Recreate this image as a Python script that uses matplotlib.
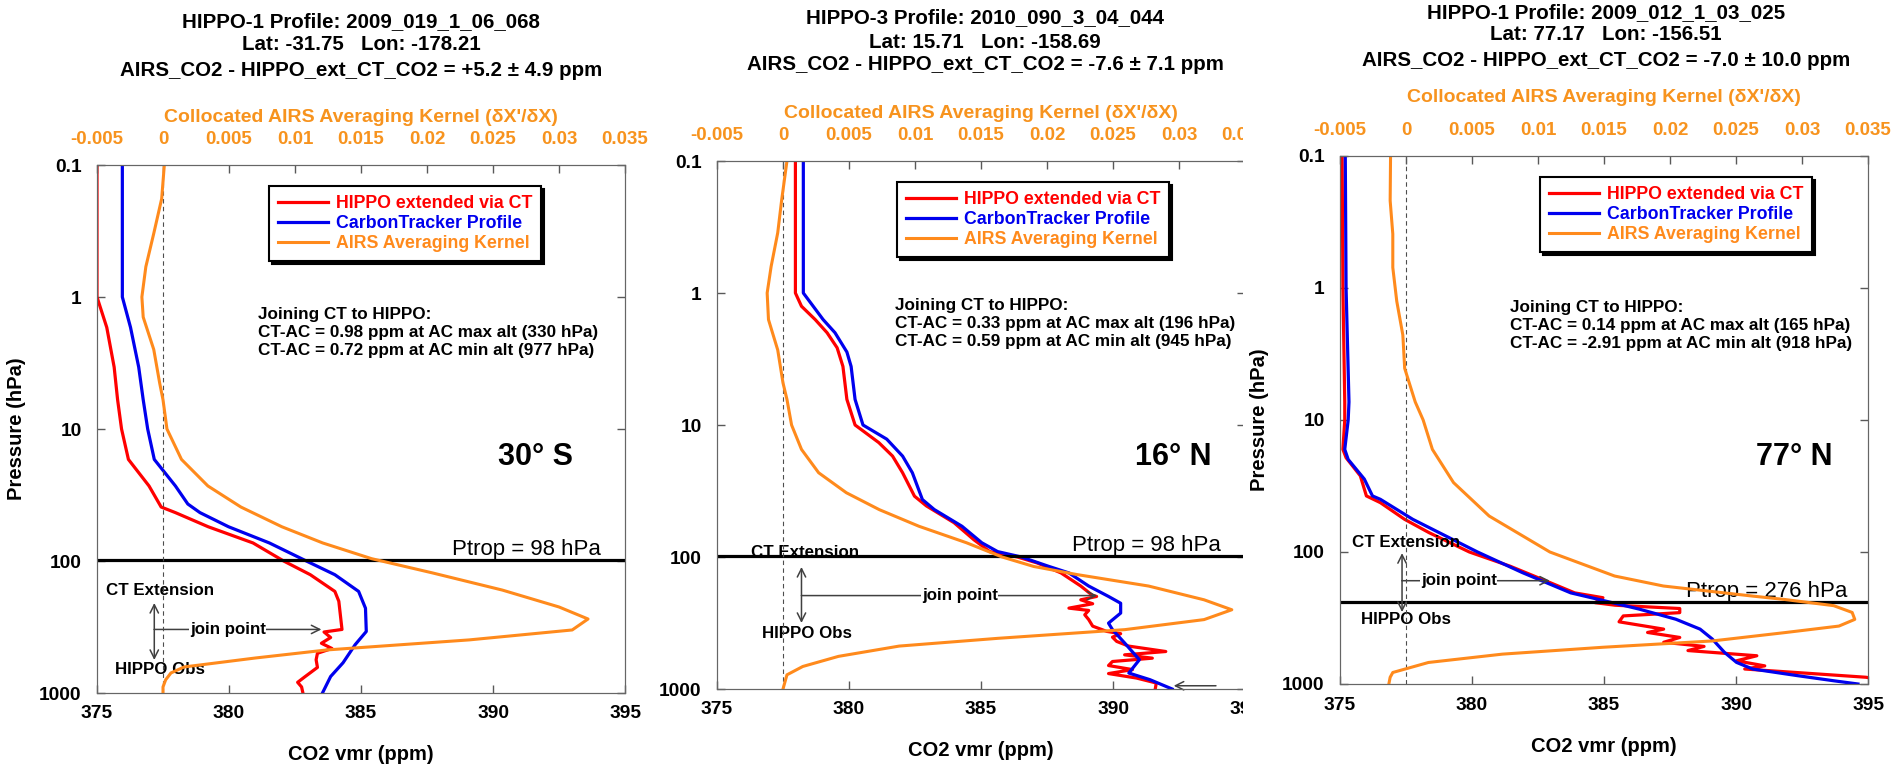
import matplotlib
matplotlib.use("Agg")
import matplotlib.pyplot as plt
from matplotlib.patches import Rectangle
from matplotlib.ticker import NullLocator

plt.rcParams['font.family'] = ['Liberation Sans', 'DejaVu Sans']
plt.rcParams['font.weight'] = 'bold'
plt.rcParams['axes.labelweight'] = 'bold'

RED = '#ff0000'
BLUE = '#0000ee'
ORANGE = '#ff8a1c'
AKTEXT = '#f7931e'

# ---------------- panel 1 : 30 S ----------------
p1_hippo_p = [0.1, 1.0, 1.7, 3.4, 6.0, 10, 17, 27, 39, 43, 55, 73, 100, 127, 170,
              202, 330, 345, 380, 420, 460, 500, 560, 640, 760, 830, 900, 1000]
p1_hippo_co2 = [375.0, 375.0, 375.37, 375.65, 375.78, 375.93, 376.19, 376.97, 377.43, 377.97,
                379.21, 380.91, 382.07, 383.08, 384.01, 384.16, 384.28, 383.6, 383.85, 383.5,
                383.9, 383.35, 383.3, 383.35, 382.85, 382.6, 382.75, 382.8]
p1_ct_p = [0.1, 1.0, 1.7, 3.4, 6.0, 10, 17, 27, 37, 43, 55, 73, 100, 127, 170,
           228, 342, 430, 590, 750, 1000]
p1_ct_co2 = [375.96, 375.96, 376.27, 376.58, 376.75, 376.92, 377.17, 377.97, 378.44, 378.9,
             379.98, 381.53, 382.93, 384.01, 384.91, 385.17, 385.2, 384.78, 384.32, 383.85, 383.54]
p1_ak_p = [0.1, 0.18, 0.33, 0.59, 1.0, 1.42, 2.5, 4.5, 6.0, 10, 17, 27, 39, 55, 73,
           96, 123, 166, 223, 275, 333, 396, 472, 543, 635, 705, 795, 900, 1000]
p1_ak = [0.0001, -0.0001, -0.0007, -0.0013, -0.0016, -0.0015, -0.0007, -0.00025, 0.0, 0.0003,
         0.0014, 0.0034, 0.0059, 0.0090, 0.0121, 0.0158, 0.0204, 0.0257, 0.0300, 0.0322,
         0.0310, 0.0232, 0.0124, 0.0070, 0.0016, 0.0006, 0.0002, 0.0, 0.0]

# ---------------- panel 2 : 16 N ----------------
p2_hippo_p = [0.1, 1.0, 1.26, 1.59, 2.0, 2.6, 3.6, 6.4, 10, 13.6, 17.2, 23, 34.6, 41, 55,
              74, 91, 100, 111, 132, 166, 196, 199, 211, 226, 244, 254, 274, 298, 334,
              366, 381, 405, 436, 473, 520, 551, 584, 619, 664, 713, 764, 826, 901, 1000]
p2_hippo_co2 = [377.97, 377.97, 378.2, 378.72, 379.17, 379.55, 379.77, 379.92, 380.23, 381.13,
                381.65, 382.03, 382.48, 382.93, 383.98, 384.73, 385.33, 386.38, 387.13, 388.03,
                388.78, 389.23, 389.38, 388.78, 389.23, 388.33, 389.08, 388.93, 389.08, 389.23,
                389.76, 390.29, 389.98, 390.14, 390.59, 392.0, 390.44, 391.49, 389.98, 389.83,
                390.74, 389.83, 390.89, 391.64, 391.6]
p2_ct_p = [0.1, 1.0, 1.59, 2.0, 2.8, 3.6, 6.4, 10, 12.8, 17.2, 23, 36.7, 43.7, 58.5, 78,
           91, 100, 118, 132, 166, 199, 224, 266, 317, 355, 448, 600, 757, 850, 1000]
p2_ct_co2 = [378.27, 378.27, 379.02, 379.47, 379.92, 380.08, 380.23, 380.53, 381.43, 382.03,
             382.4, 382.78, 383.23, 384.28, 385.03, 385.63, 386.53, 387.58, 388.33, 389.08,
             389.83, 390.29, 390.29, 389.83, 389.98, 390.44, 391.0, 390.6, 391.4, 392.24]
p2_ak_p = [0.1, 0.197, 0.35, 0.63, 1.0, 1.59, 2.7, 4.8, 6.4, 10, 15.3, 23, 32.6, 43.8, 58.5,
           78, 100, 118, 136, 166, 211, 251, 298, 355, 413, 473, 566, 675, 781, 1000]
p2_ak = [0.0003, -0.0001, -0.0004, -0.0009, -0.0012, -0.0011, -0.0004, 0.0, 0.0003, 0.00065,
         0.0014, 0.0027, 0.0048, 0.0073, 0.0103, 0.0139, 0.0166, 0.0190, 0.0223, 0.0277,
         0.0319, 0.0340, 0.0319, 0.0259, 0.0163, 0.0088, 0.0042, 0.0015, 0.0003, 0.0]

# ---------------- panel 3 : 77 N ----------------
p3_hippo_p = [0.1, 1.0, 7.3, 10, 16.7, 19.3, 26.5, 37.6, 42.3, 56.6, 71.3, 100, 128, 171, 204,
              222, 242, 253, 268, 288, 305, 338, 384, 407, 444, 483, 519, 558, 611, 667,
              729, 770, 827, 889, 945, 1000]
p3_hippo_co2 = [375.08, 375.11, 375.18, 375.18, 375.11, 375.23, 375.77, 376.0, 376.53, 377.45,
                378.37, 379.9, 381.44, 382.97, 383.89, 384.96, 384.66, 385.42, 387.87, 387.87,
                385.73, 385.57, 387.26, 386.65, 387.87, 387.26, 388.79, 388.18, 390.79, 390.02,
                391.09, 390.33, 392.62, 394.92, 395.8, 396.5]
p3_ct_p = [0.1, 1.0, 7.3, 10, 16.7, 19.9, 28, 37.6, 39.9, 56.6, 100, 143, 204, 229, 271,
           323, 384, 456, 575, 686, 770, 864, 945, 1000]
p3_ct_co2 = [375.2, 375.23, 375.34, 375.31, 375.18, 375.31, 375.92, 376.23, 376.53, 377.76,
             380.21, 381.9, 383.74, 384.81, 386.34, 387.72, 388.64, 389.1, 389.56, 390.02,
             390.63, 392.32, 393.7, 394.62]
p3_ak_p = [0.1, 0.218, 0.39, 0.70, 1.26, 2.27, 4.06, 7.3, 10, 16.7, 29.8, 53.4, 100, 152, 181,
           216, 229, 255, 287, 324, 364, 408, 472, 527, 594, 687, 818, 889, 1000]
p3_ak = [-0.00117, -0.0012, -0.001, -0.001, -0.0007, -0.00024, -0.0001, 0.0007, 0.0013, 0.0020,
         0.0036, 0.0063, 0.0109, 0.0158, 0.0195, 0.0263, 0.0287, 0.0324, 0.0338, 0.0340,
         0.0328, 0.0287, 0.0232, 0.0149, 0.0073, 0.0017, -0.0010, -0.0012, -0.0013]

# ---------------- labels ----------------
profiles = ["HIPPO-1 Profile: 2009_019_1_06_068",
            "HIPPO-3 Profile: 2010_090_3_04_044",
            "HIPPO-1 Profile: 2009_012_1_03_025"]
latlon = ["Lat: -31.75   Lon: -178.21",
          "Lat: 15.71   Lon: -158.69",
          "Lat: 77.17   Lon: -156.51"]
diffs = ["+5.2 ± 4.9", "-7.6 ± 7.1", "-7.0 ± 10.0"]
ct_ac_max = ["0.98", "0.33", "0.14"]
ac_max_p = [330, 196, 165]
ct_ac_min = ["0.72", "0.59", "-2.91"]
ac_min_p = [977, 945, 918]
lat_labels = ["30° S", "16° N", "77° N"]
ptrop = [98, 98, 276]
ptrop_line_p = [98, 98, 239]   # where the line sits in the picture
co2_ticks = [375, 380, 385, 390, 395]
p_ticks = [0.1, 1, 10, 100, 1000]
p_ticklabels = ['0.1', '1', '10', '100', '1000']
ak_ticks = [-0.005, 0, 0.005, 0.01, 0.015, 0.02, 0.025, 0.03, 0.035]
ak_ticklabels = ['-0.005', '0', '0.005', '0.01', '0.015', '0.02', '0.025', '0.03', '0.035']

panels = [
    dict(hippo_p=p1_hippo_p, hippo_co2=p1_hippo_co2, ct_p=p1_ct_p, ct_co2=p1_ct_co2,
         ak_p=p1_ak_p, ak=p1_ak),
    dict(hippo_p=p2_hippo_p, hippo_co2=p2_hippo_co2, ct_p=p2_ct_p, ct_co2=p2_ct_co2,
         ak_p=p2_ak_p, ak=p2_ak),
    dict(hippo_p=p3_hippo_p, hippo_co2=p3_hippo_co2, ct_p=p3_ct_p, ct_co2=p3_ct_co2,
         ak_p=p3_ak_p, ak=p3_ak),
]

# layout in pixels of the 1893x768 picture (annotation spots in ppm / hPa)
W, H, AX = 1893, 768, 528
layout = [
    dict(left=97, bottom=693, z=1, title_x=361, title_y=(22, 45, 70), aklab=117,
         legend=(0.326, 0.96), join_txt=(381.1, 1.2), lat=(391.6, 16.3), ptrop_x=394.1,
         ctext=(375.35, 166), arrow_x=377.17, arr_top=208, arr_bot=562, join_end=383.5,
         join_lbl=379.95, hobs=(375.7, 658), ylabel=True, xlab=-0.117, bottom_arrow=None),
    dict(left=717, bottom=689, z=2, title_x=985, title_y=(18, 42, 65), aklab=113,
         legend=(0.341, 0.96), join_txt=(381.74, 1.09), lat=(392.3, 17.5), ptrop_x=394.1,
         ctext=(376.3, 93), arrow_x=378.2, arr_top=119, arr_bot=316, join_end=389.4,
         join_lbl=384.2, hobs=(376.7, 377), ylabel=False, xlab=-0.116,
         bottom_arrow=(393.9, 392.3)),
    dict(left=1340, bottom=684, z=4, title_x=1606, title_y=(13, 35, 60), aklab=97,
         legend=(0.379, 0.96), join_txt=(381.44, 1.23), lat=(392.2, 19.2), ptrop_x=394.2,
         ctext=(375.45, 84), arrow_x=377.35, arr_top=102, arr_bot=285, join_end=382.95,
         join_lbl=379.5, hobs=(375.8, 327), ylabel=True, xlab=-0.119, bottom_arrow=None),
]

fig = plt.figure(figsize=(W / 100, H / 100), dpi=100)
fig.patch.set_facecolor('white')

# panel 3 image sits over the right edge of panel 2
fig.add_artist(Rectangle((1243 / W, 0), 1 - 1243 / W, 1, transform=fig.transFigure,
                         facecolor='white', edgecolor='none', zorder=3))

arrow_kw = dict(arrowstyle='->', color='0.25', lw=1.1, shrinkA=0, shrinkB=0, mutation_scale=15)

for i, (pan, lay) in enumerate(zip(panels, layout)):
    z = lay['z']
    ax = fig.add_axes([lay['left'] / W, 1 - lay['bottom'] / H, AX / W, AX / H], zorder=z)
    ax.set_yscale('log')
    ax.set_ylim(1000, 0.1)
    ax.set_xlim(375, 395)
    h_red, = ax.plot(pan['hippo_co2'], pan['hippo_p'], color=RED, lw=2.3)
    h_blue, = ax.plot(pan['ct_co2'], pan['ct_p'], color=BLUE, lw=2.3)
    ax.axhline(ptrop_line_p[i], color='black', lw=2.3)

    ax.set_yticks(p_ticks, labels=p_ticklabels)
    ax.yaxis.set_minor_locator(NullLocator())
    ax.set_xticks(co2_ticks)
    ax.tick_params(axis='both', which='major', direction='in', length=6, width=1,
                   color='0.35', labelsize=13.8)
    ax.tick_params(axis='y', right=True, pad=11)
    ax.tick_params(axis='x', pad=9)
    for s in ax.spines.values():
        s.set_color('0.4')

    ax.set_xlabel('CO2 vmr (ppm)', fontsize=14.5)
    ax.xaxis.set_label_coords(0.5, lay['xlab'])
    ax.xaxis.label.set_va('center')
    if lay['ylabel']:
        ax.set_ylabel('Pressure (hPa)', fontsize=14.5)
        ax.yaxis.set_label_coords(-0.152, 0.5)
        ax.yaxis.label.set_va('center')

    tw = ax.twiny()
    tw.set_zorder(z)
    tw.axvline(0, color='0.3', lw=0.8, ls=(0, (4, 3)), zorder=1)
    h_ak, = tw.plot(pan['ak'], pan['ak_p'], color=ORANGE, lw=2.2)
    tw.set_xlim(-0.005, 0.035)
    tw.set_xticks(ak_ticks, labels=ak_ticklabels)
    tw.tick_params(axis='x', direction='in', length=6, width=1, color='0.35',
                   labelsize=13.5, labelcolor=AKTEXT, pad=12)
    for s in tw.spines.values():
        s.set_color('0.4')
    tw.set_xlabel("Collocated AIRS Averaging Kernel (δX'/δX)", color=AKTEXT, fontsize=14)
    tw.xaxis.set_label_coords(0.5, (lay['bottom'] - lay['aklab']) / AX)
    tw.xaxis.label.set_va('center')

    leg = tw.legend([h_red, h_blue, h_ak],
                    ['HIPPO extended via CT', 'CarbonTracker Profile', 'AIRS Averaging Kernel'],
                    loc='upper left', bbox_to_anchor=lay['legend'], bbox_transform=ax.transAxes,
                    fancybox=False, edgecolor='black', labelcolor='linecolor',
                    shadow={'facecolor': 'black', 'edgecolor': 'black', 'alpha': 1},
                    prop={'weight': 'bold', 'size': 12.8}, handlelength=2.8,
                    borderpad=0.5, labelspacing=0.18, handletextpad=0.45, borderaxespad=0,
                    framealpha=1)
    leg.get_frame().set_linewidth(1.5)

    # titles
    lines = [profiles[i], latlon[i], f"AIRS_CO2 - HIPPO_ext_CT_CO2 = {diffs[i]} ppm"]
    for txt, y in zip(lines, lay['title_y']):
        fig.text(lay['title_x'] / W, 1 - y / H, txt, ha='center', va='center',
                 fontsize=14.8, weight='bold', zorder=6)

    join_text = ("Joining CT to HIPPO:\n"
                 f"CT-AC = {ct_ac_max[i]} ppm at AC max alt ({ac_max_p[i]} hPa)\n"
                 f"CT-AC = {ct_ac_min[i]} ppm at AC min alt ({ac_min_p[i]} hPa)")
    ax.text(*lay['join_txt'], join_text, ha='left', va='top', fontsize=12.3, linespacing=1.25)
    ax.text(*lay['lat'], lat_labels[i], ha='center', va='center', fontsize=22, weight='bold')
    ax.text(lay['ptrop_x'], ptrop_line_p[i], f"Ptrop = {ptrop[i]} hPa", ha='right', va='bottom',
            fontsize=16, weight='normal')

    # CT extension / HIPPO obs markers
    jp = ac_max_p[i]
    ax.text(*lay['ctext'], 'CT Extension', ha='left', va='center', fontsize=12.2)
    ax.text(*lay['hobs'], 'HIPPO Obs', ha='left', va='center', fontsize=12.2)
    ax.annotate('', xy=(lay['arrow_x'], lay['arr_top']), xytext=(lay['arrow_x'], jp),
                arrowprops=arrow_kw)
    ax.annotate('', xy=(lay['arrow_x'], lay['arr_bot']), xytext=(lay['arrow_x'], jp),
                arrowprops=arrow_kw)
    ax.annotate('', xy=(lay['join_end'], jp), xytext=(lay['arrow_x'], jp), arrowprops=arrow_kw)
    ax.text(lay['join_lbl'], jp, 'join point', ha='center', va='center', fontsize=12.2,
            bbox=dict(facecolor='white', edgecolor='none', pad=0.5))
    if lay['bottom_arrow'] is not None:
        x0, x1 = lay['bottom_arrow']
        ax.annotate('', xy=(x1, ac_min_p[i]), xytext=(x0, ac_min_p[i]), arrowprops=arrow_kw)

fig.savefig('out.png', dpi=100)
